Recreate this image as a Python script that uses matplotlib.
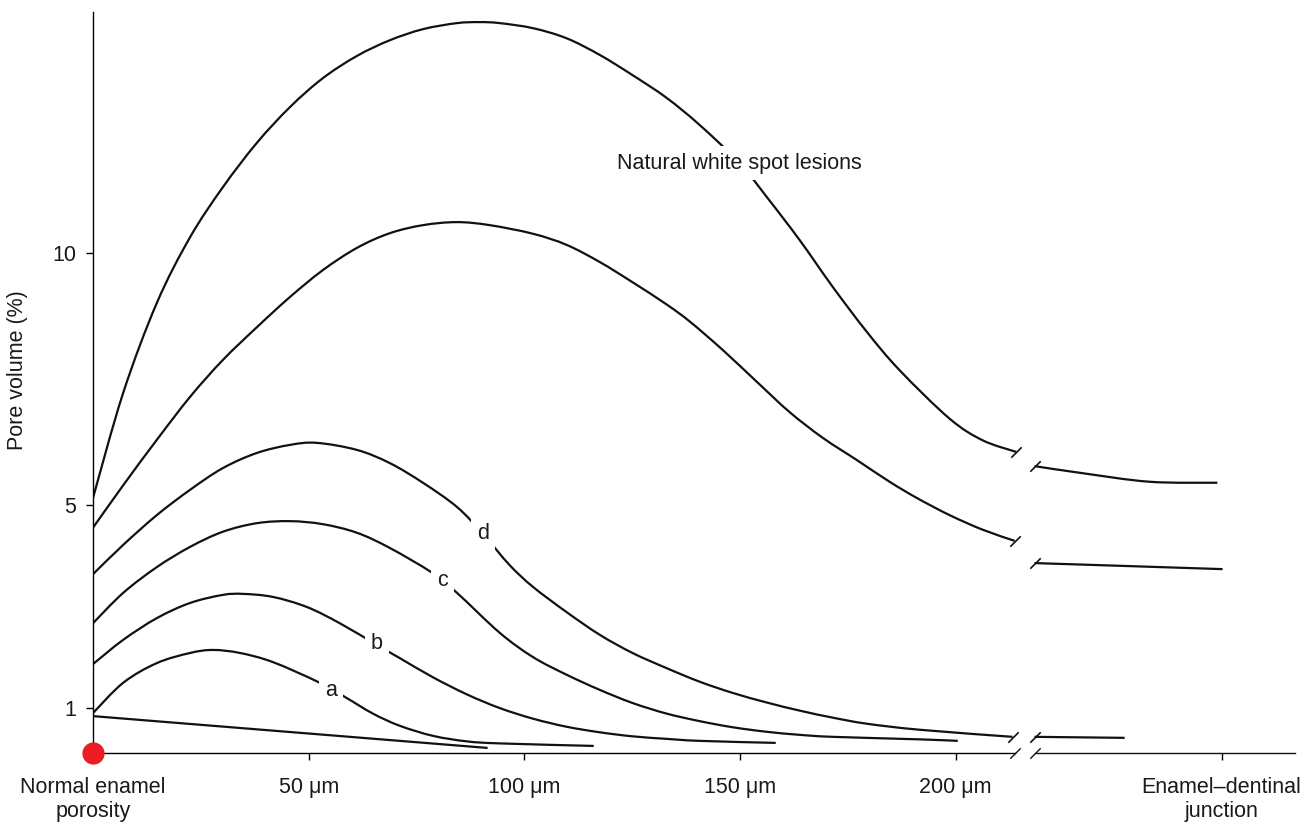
import matplotlib
matplotlib.use("Agg")
import matplotlib.pyplot as plt
from matplotlib.path import Path
from matplotlib.patches import PathPatch

plt.rcParams['font.family'] = ['Liberation Sans', 'DejaVu Sans']

# ---------------- data (x in µm, y in pore volume %) ----------------
natural_x = [0, 7.0, 14.8, 22.5, 30.1, 38.0, 45.7, 53.3, 61.2, 68.8, 76.5, 84.4, 89.7,
             94.3, 102.0, 109.8, 117.5, 125.1, 133.0, 140.7, 149.9, 156.2, 163.8, 171.5,
             179.4, 187.0, 198.6, 206.3, 214.1]
natural_y = [5.15, 7.23, 9.01, 10.31, 11.30, 12.18, 12.89, 13.46, 13.90, 14.21, 14.43, 14.55, 14.57,
             14.55, 14.45, 14.25, 13.92, 13.52, 13.07, 12.53, 11.78, 11.11, 10.26, 9.33,
             8.44, 7.68, 6.72, 6.29, 6.06]
natural_x2 = [218.3, 229.4, 245.0, 260.7]
natural_y2 = [5.78, 5.64, 5.47, 5.45]

second_x = [0, 7.0, 14.8, 22.5, 30.1, 38.0, 45.7, 53.3, 61.2, 68.8, 76.5, 84.4, 92.0,
            102.0, 109.8, 117.5, 125.1, 133.0, 138.4, 146.0, 153.9, 161.5, 169.2, 177.1,
            184.7, 191.0, 198.6, 206.3, 213.7]
second_y = [4.56, 5.40, 6.30, 7.15, 7.88, 8.53, 9.13, 9.66, 10.10, 10.39, 10.55, 10.61, 10.55,
            10.38, 10.16, 9.82, 9.42, 8.98, 8.64, 8.08, 7.45, 6.85, 6.34, 5.90,
            5.47, 5.15, 4.81, 4.52, 4.30]
second_x2 = [218.3, 240.3, 261.9]
second_y2 = [3.86, 3.80, 3.74]

d_x = [0, 7.0, 14.8, 22.5, 30.1, 38.0, 45.7, 51.9, 61.2, 68.8, 76.5, 84.4, 90.4, 96.6,
       102.0, 109.8, 117.5, 125.1, 133.0, 140.7, 148.3, 156.2, 163.8, 171.5, 179.4,
       191.7, 213.2]
d_y = [3.64, 4.22, 4.81, 5.31, 5.74, 6.04, 6.20, 6.24, 6.10, 5.84, 5.45, 4.97, 4.44, 3.82,
       3.39, 2.89, 2.44, 2.08, 1.78, 1.51, 1.29, 1.10, 0.94, 0.80, 0.68,
       0.56, 0.42]
d_x2 = [218.3, 239.2]
d_y2 = [0.42, 0.40]

c_x = [0, 7.0, 14.8, 22.5, 30.1, 38.0, 45.7, 53.3, 61.2, 68.8, 78.6, 84.4, 94.3,
       102.0, 109.8, 117.5, 125.1, 133.0, 140.7, 148.3, 156.2, 163.8, 171.5, 191.7, 200.5]
c_y = [2.67, 3.27, 3.78, 4.18, 4.48, 4.65, 4.69, 4.63, 4.46, 4.16, 3.67, 3.27, 2.48,
       2.00, 1.65, 1.35, 1.09, 0.88, 0.73, 0.61, 0.52, 0.46, 0.42, 0.37, 0.34]

b_x = [0, 7.0, 14.8, 22.5, 30.1, 34.8, 41.7, 49.6, 57.2, 65.8, 71.1, 78.8, 86.7, 94.3,
       102.0, 109.8, 117.5, 125.1, 133.0, 140.7, 158.3]
b_y = [1.86, 2.34, 2.77, 3.07, 3.23, 3.25, 3.19, 2.99, 2.67, 2.24, 1.98, 1.60, 1.26, 0.99,
       0.78, 0.62, 0.51, 0.43, 0.38, 0.34, 0.30]

a_x = [0, 7.0, 14.8, 22.5, 27.8, 34.1, 41.7, 52.1, 58.4, 64.9, 71.1, 78.8, 86.7, 94.3, 116.1]
a_y = [0.89, 1.49, 1.88, 2.08, 2.14, 2.08, 1.90, 1.51, 1.21, 0.88, 0.64, 0.44, 0.33, 0.29, 0.24]

base_x = [0, 91.5]
base_y = [0.83, 0.20]

# curve labels: (text, x, y)
curve_labels = [("Natural white spot lesions", 149.9, 11.78),
                ("d", 90.4, 4.44),
                ("c", 81.1, 3.51),
                ("b", 65.8, 2.26),
                ("a", 55.2, 1.33)]

xtick_pos = [0, 50, 100, 150, 200, 261.7]
xtick_labels = ["Normal enamel\nporosity", "50 \u03bcm", "100 \u03bcm", "150 \u03bcm",
                "200 \u03bcm", "Enamel\u2013dentinal\njunction"]
ytick_pos = [1, 5, 10]
ytick_labels = ["1", "5", "10"]

XMAX = 278.7
YMIN, YMAX = 0.10, 14.77
BREAK_L, BREAK_R = 213.8, 218.3

# ---------------- figure ----------------
fig = plt.figure(figsize=(13.12, 8.25), dpi=100)
ax = fig.add_axes([93 / 1312, 72 / 825, 1202 / 1312, 741 / 825])
ax.set_xlim(0, XMAX)
ax.set_ylim(YMIN, YMAX)

LW = 1.6
INK = "#111111"
slash = [(-1, -1), (1, 1)]


def smooth_path(x, y):
    """Catmull-Rom curve through the read points, drawn as cubic Bezier segments."""
    pts = list(zip(x, y))
    n = len(pts)
    verts = [pts[0]]
    codes = [Path.MOVETO]
    for i in range(n - 1):
        p0 = pts[i - 1] if i > 0 else pts[i]
        p1 = pts[i]
        p2 = pts[i + 1]
        p3 = pts[i + 2] if i + 2 < n else pts[i + 1]
        c1 = (p1[0] + (p2[0] - p0[0]) / 6.0, p1[1] + (p2[1] - p0[1]) / 6.0)
        c2 = (p2[0] - (p3[0] - p1[0]) / 6.0, p2[1] - (p3[1] - p1[1]) / 6.0)
        verts += [c1, c2, p2]
        codes += [Path.CURVE4, Path.CURVE4, Path.CURVE4]
    return Path(verts, codes)


def seg(x, y, end_mark=None):
    ax.add_patch(PathPatch(smooth_path(x, y), fill=False, edgecolor=INK, lw=LW,
                           capstyle='butt', zorder=2))
    if end_mark is not None:
        ax.plot([x[end_mark]], [y[end_mark]], linestyle='none', marker=slash,
                markersize=7.5, markeredgewidth=1.2, markeredgecolor=INK, zorder=2)


seg(natural_x, natural_y, -1)
seg(natural_x2, natural_y2, 0)
seg(second_x, second_y, -1)
seg(second_x2, second_y2, 0)
seg(d_x, d_y, -1)
seg(d_x2, d_y2, 0)
seg(c_x, c_y)
seg(b_x, b_y)
seg(a_x, a_y)
seg(base_x, base_y)

for txt, x, y in curve_labels:
    ax.text(x, y, txt, fontsize=15.5, color="#1a1a1a", ha='center', va='center',
            zorder=4, bbox=dict(facecolor='white', edgecolor='none', pad=4.5))

# axes styling
for s in ['top', 'right']:
    ax.spines[s].set_visible(False)
ax.spines['left'].set_linewidth(1.0)
ax.spines['bottom'].set_linewidth(1.0)
ax.spines['bottom'].set_bounds(0, BREAK_L)
ax.plot([BREAK_R, XMAX], [YMIN, YMIN], color=INK, lw=1.0, clip_on=False, zorder=2)
ax.plot([BREAK_L, BREAK_R], [YMIN, YMIN], linestyle='none', marker=slash, markersize=7.5,
        markeredgewidth=1.0, markeredgecolor=INK, clip_on=False, zorder=2)

ax.set_xticks(xtick_pos)
ax.set_xticklabels(xtick_labels, fontsize=15.5, color="#1a1a1a")
ax.set_yticks(ytick_pos)
ax.set_yticklabels(ytick_labels, fontsize=15.5, color="#1a1a1a")
ax.tick_params(axis='x', direction='out', length=5, width=1, pad=12)
ax.tick_params(axis='y', direction='out', length=5, width=1, pad=7)

# red dot at origin
ax.plot([0], [YMIN], marker='o', markersize=16, color="#ec1c24",
        markeredgewidth=0, clip_on=False, zorder=5)

fig.text(18 / 1312, 1 - 370 / 825, "Pore volume (%)", rotation=90, fontsize=15.5,
         color="#1a1a1a", ha='center', va='center')

fig.savefig("out.png", dpi=100, facecolor='white')
